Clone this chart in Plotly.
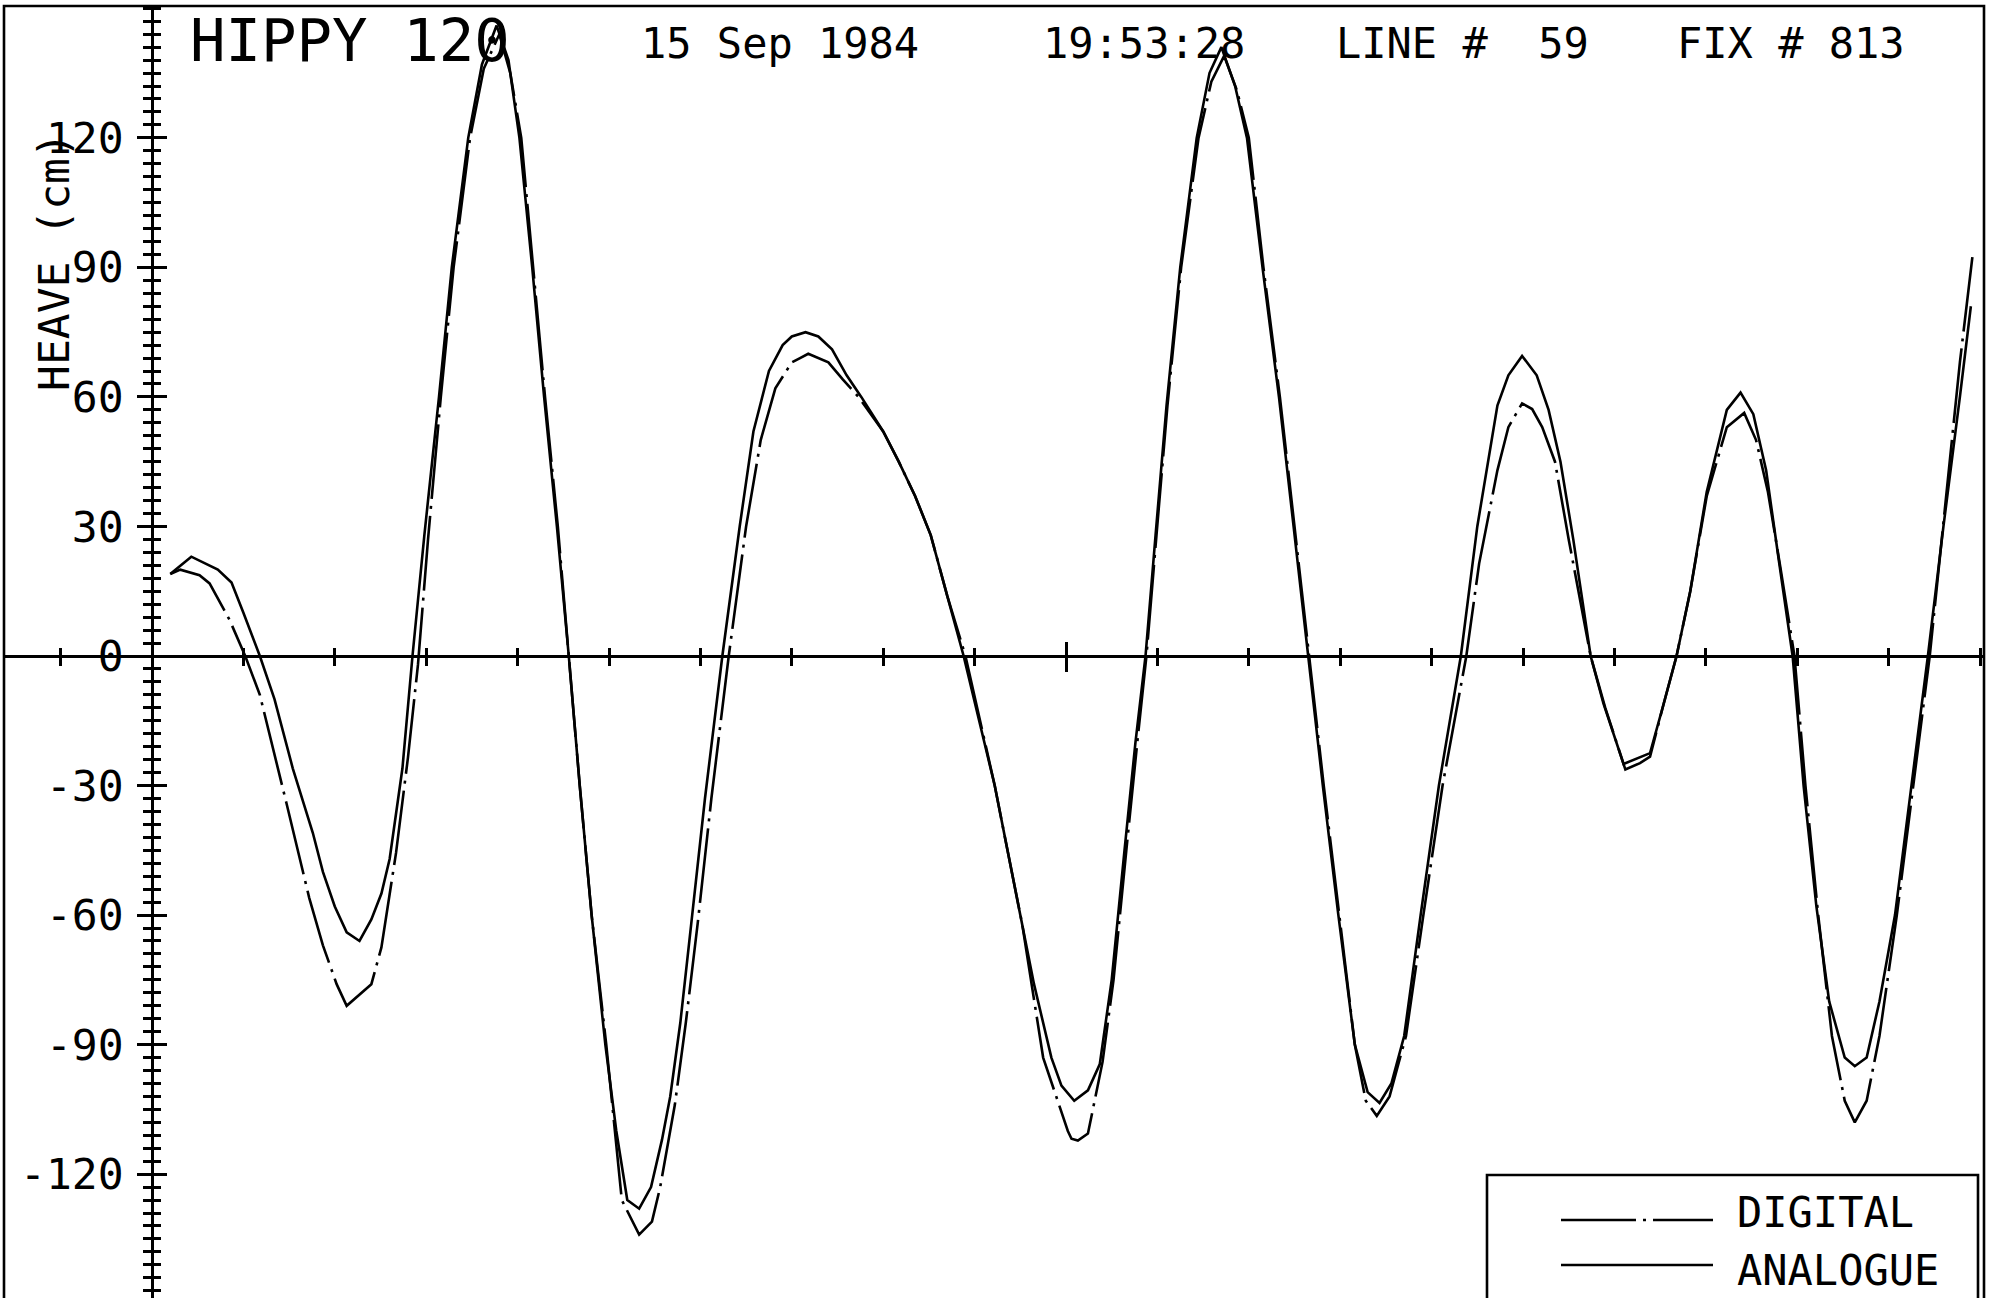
import plotly.graph_objects as go

W, H = 1989, 1298
FONT = "DejaVu Sans Mono"

# Heave record, time in plot divisions, heave in cm
analogue_t = [
    0.20, 0.43, 0.72, 0.87, 1.00, 1.18, 1.34, 1.54, 1.76, 1.87,
    2.00, 2.13, 2.27, 2.40, 2.51, 2.60, 2.74, 2.85, 2.98, 3.14,
    3.28, 3.46, 3.61, 3.77, 3.90, 4.02, 4.16, 4.29, 4.43, 4.56,
    4.68, 4.81, 4.96, 5.08, 5.20, 5.33, 5.46, 5.58, 5.67, 5.78,
    5.90, 6.05, 6.24, 6.43, 6.58, 6.75, 6.90, 7.00, 7.15, 7.29,
    7.44, 7.60, 7.76, 8.00, 8.17, 8.35, 8.52, 8.70, 8.88, 9.05,
    9.22, 9.36, 9.50, 9.65, 9.84, 9.95, 10.09, 10.24, 10.37, 10.50,
    10.64, 10.76, 10.87, 10.98, 11.10, 11.25, 11.43, 11.57, 11.70, 11.85,
    11.98, 12.15, 12.33, 12.49, 12.65, 12.81, 12.98, 13.16, 13.30, 13.43,
    13.56, 13.70, 13.88, 14.08, 14.32, 14.50, 14.72, 14.84, 14.99, 15.15,
    15.28, 15.41, 15.55, 15.74, 15.88, 16.10, 16.39, 16.54, 16.68, 16.83,
    17.01, 17.23, 17.38, 17.52, 17.66, 17.80, 17.95, 18.07, 18.21, 18.35,
    18.52, 18.63, 18.76, 18.90, 19.07, 19.25, 19.43, 19.60, 19.78, 19.90,
]
analogue_cm = [
    19, 23, 20, 17, 10, 0, -10, -26, -41, -50,
    -58, -64, -66, -61, -55, -47, -26, 0, 28, 60,
    90, 120, 137, 146, 138, 120, 90, 60, 30, 0,
    -30, -60, -90, -110, -126, -128, -123, -112, -102, -85,
    -62, -33, 0, 30, 52, 66, 72, 74, 75, 74,
    71, 65, 60, 52, 45, 37, 28, 14, 0, -15,
    -30, -45, -60, -76, -93, -99.5, -103, -100.6, -94.5, -75,
    -45, -20, 0, 28, 58, 90, 120, 135, 141, 132,
    120, 90, 60, 30, 0, -30, -60, -90, -101, -103.5,
    -99, -88, -60, -30, 0, 30, 58, 65, 69.5, 65,
    57, 45, 27, 0, -11, -25, -22.5, -11, 0, 15,
    38, 57, 61, 56, 43, 22, 0, -30, -58, -80,
    -93, -95, -93, -80, -60, -30, 0, 30, 60, 81,
]

digital_t = [
    0.20, 0.31, 0.52, 0.63, 0.85, 1.02, 1.18, 1.47, 1.72, 1.87,
    2.02, 2.13, 2.40, 2.51, 2.67, 2.80, 2.91, 3.02, 3.16, 3.30,
    3.48, 3.63, 3.80, 3.92, 4.04, 4.17, 4.30, 4.44, 4.56, 4.68,
    4.81, 4.97, 5.14, 5.33, 5.47, 5.56, 5.72, 5.84, 5.97, 6.12,
    6.31, 6.50, 6.66, 6.82, 7.00, 7.09, 7.18, 7.40, 7.56, 7.73,
    8.00, 8.17, 8.35, 8.52, 8.70, 8.90, 9.06, 9.22, 9.36, 9.52,
    9.75, 10.02, 10.06, 10.13, 10.24, 10.40, 10.52, 10.66, 10.78, 10.88,
    10.99, 11.11, 11.26, 11.45, 11.59, 11.73, 11.87, 12.00, 12.16, 12.34,
    12.50, 12.66, 12.82, 12.99, 13.16, 13.28, 13.40, 13.54, 13.72, 13.91,
    14.12, 14.38, 14.52, 14.72, 14.84, 14.99, 15.10, 15.21, 15.35, 15.50,
    15.74, 15.90, 16.12, 16.28, 16.39, 16.54, 16.68, 16.83, 17.01, 17.23,
    17.42, 17.55, 17.68, 17.82, 17.97, 18.09, 18.23, 18.38, 18.52, 18.63,
    18.76, 18.90, 19.09, 19.27, 19.45, 19.62, 19.78, 19.92,
]
digital_cm = [
    19, 20, 18.7, 16.8, 8.3, 0, -9, -34, -56, -67,
    -76, -81, -76, -67.5, -45.6, -23.6, -2, 27, 60, 90,
    120, 136, 144, 135, 120, 90, 60, 30, 0, -30,
    -60, -90, -126, -134, -131, -123, -104, -85, -62, -33,
    0, 30, 50, 62, 68, 69, 70, 68, 64, 60,
    52, 45, 37, 28, 14, 0, -15, -30, -45, -62,
    -93, -110, -111.8, -112.2, -110.6, -94, -75, -45, -20, 0,
    28, 58, 90, 120, 133, 139, 131, 120, 90, 60,
    30, 0, -30, -60, -90, -103, -106.5, -102, -88, -60,
    -30, 0, 21.4, 43, 53, 58.5, 57.2, 53, 45, 27,
    0, -12, -26.3, -24.8, -23.3, -11, 0, 15, 37, 53,
    56.3, 50, 38, 20, 0, -30, -60, -88, -103, -108,
    -103, -88, -60, -30, 0, 35, 68, 93,
]

y_tick_vals = [-120, -90, -60, -30, 0, 30, 60, 90, 120]
y_tick_text = ["-120", "-90", "-60", "-30", "0", "30", "60", "90", "120"]
x_major_ticks = [0, 10]

header_text = ["HIPPY 120", "15 Sep 1984", "19:53:28", "LINE #  59", "FIX # 813"]
legend_names = ["DIGITAL", "ANALOGUE"]

assert len(analogue_t) == len(analogue_cm)
assert len(digital_t) == len(digital_cm)

# page geometry (pixels): origin of the axes and scale of each axis
X0, Y0 = 152, 656
PX_PER_DIV, PX_PER_CM = 91.4, 4.318
DASHDOT = "75px,7px,3px,7px"
LW = 2.6


def px(x):
    return x / W


def py(y):
    return 1 - y / H


x_range = [(5 - X0) / PX_PER_DIV, (1983 - X0) / PX_PER_DIV]
y_range = [-(H - Y0) / PX_PER_CM, (Y0 - 6) / PX_PER_CM]

fig = go.Figure()
fig.add_trace(go.Scatter(
    x=digital_t, y=digital_cm, mode="lines", name=legend_names[0],
    line=dict(color="black", width=LW, dash=DASHDOT, simplify=False),
    showlegend=False, hoverinfo="skip",
))
fig.add_trace(go.Scatter(
    x=analogue_t, y=analogue_cm, mode="lines", name=legend_names[1],
    line=dict(color="black", width=LW, simplify=False),
    showlegend=False, hoverinfo="skip",
))
# empty trace so the mirrored tick axes get drawn
fig.add_trace(go.Scatter(x=[], y=[], xaxis="x2", yaxis="y2",
                         showlegend=False, hoverinfo="skip"))

common_x = dict(
    range=x_range, domain=[px(5), px(1983)], anchor="free", position=py(Y0),
    tickmode="array", tickvals=x_major_ticks, ticklen=14, tickwidth=LW,
    tickcolor="black", showticklabels=False, showgrid=False, zeroline=False,
)
common_y = dict(
    range=y_range, domain=[0, py(6)], anchor="free", position=px(X0),
    tickmode="array", tickvals=y_tick_vals, ticklen=14, tickwidth=LW,
    tickcolor="black", showgrid=False, zeroline=False,
)

fig.update_layout(
    width=W, height=H, autosize=False,
    margin=dict(l=0, r=0, t=0, b=0, pad=0),
    paper_bgcolor="white", plot_bgcolor="rgba(0,0,0,0)",
    showlegend=False,
    xaxis=dict(**common_x, ticks="outside", showline=True, linecolor="black",
               linewidth=LW,
               minor=dict(ticks="outside", tick0=0, dtick=1, ticklen=8,
                          tickwidth=LW, tickcolor="black", showgrid=False)),
    xaxis2=dict(**common_x, overlaying="x", ticks="inside", showline=False,
                minor=dict(ticks="inside", tick0=0, dtick=1, ticklen=8,
                           tickwidth=LW, tickcolor="black", showgrid=False)),
    yaxis=dict(**common_y, ticks="outside", showline=True, linecolor="black",
               linewidth=LW, ticktext=y_tick_text, showticklabels=True,
               ticklabelstandoff=5,
               tickfont=dict(family=FONT, size=43, color="black"),
               minor=dict(ticks="outside", tick0=0, dtick=3, ticklen=8,
                          tickwidth=LW, tickcolor="black", showgrid=False)),
    yaxis2=dict(**common_y, overlaying="y", ticks="inside", showline=False,
                showticklabels=False,
                minor=dict(ticks="inside", tick0=0, dtick=3, ticklen=8,
                           tickwidth=LW, tickcolor="black", showgrid=False)),
)

shapes = [
    # plot frame
    dict(type="rect", xref="paper", yref="paper", x0=px(4), x1=px(1984),
         y0=py(1310), y1=py(6), line=dict(color="black", width=LW)),
    # legend box
    dict(type="rect", xref="paper", yref="paper", x0=px(1487), x1=px(1978),
         y0=py(1310), y1=py(1175), line=dict(color="black", width=LW)),
    dict(type="line", xref="paper", yref="paper", x0=px(1561), x1=px(1713),
         y0=py(1220), y1=py(1220),
         line=dict(color="black", width=LW, dash=DASHDOT)),
    dict(type="line", xref="paper", yref="paper", x0=px(1561), x1=px(1713),
         y0=py(1265), y1=py(1265), line=dict(color="black", width=LW)),
]

annotations = []
header_pos = [(188, 41, 59), (639, 43, 42), (1041, 43, 42), (1334, 43, 42),
              (1675, 43, 42)]
for text, (hx, hy, size) in zip(header_text, header_pos):
    annotations.append(dict(
        text=text, xref="paper", yref="paper", x=px(hx), y=py(hy),
        xanchor="left", yanchor="middle", showarrow=False,
        font=dict(family=FONT, size=size, color="black")))

annotations.append(dict(
    text="HEAVE (cm)", xref="paper", yref="paper", x=px(54), y=py(262),
    xanchor="center", yanchor="middle", showarrow=False, textangle=-90,
    font=dict(family=FONT, size=43, color="black")))

for name, ly in zip(legend_names, [1212, 1270]):
    annotations.append(dict(
        text=name, xref="paper", yref="paper", x=px(1735), y=py(ly),
        xanchor="left", yanchor="middle", showarrow=False,
        font=dict(family=FONT, size=42, color="black")))

fig.update_layout(shapes=shapes, annotations=annotations)
fig.write_html("out.html")
